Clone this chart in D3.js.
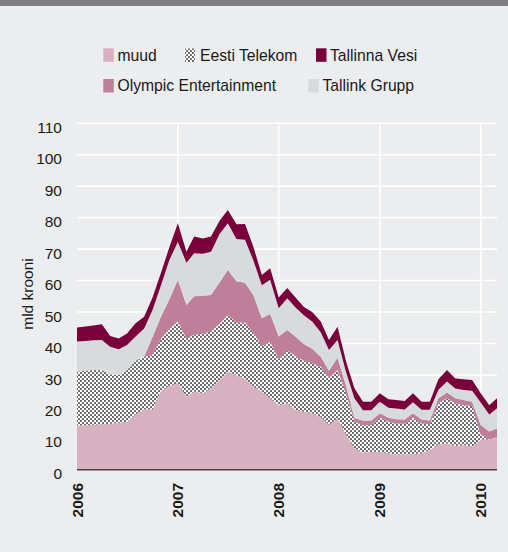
<!DOCTYPE html>
<html><head><meta charset="utf-8">
<script src="https://cdn.jsdelivr.net/npm/d3@7"></script>
<style>html,body{margin:0;padding:0;background:#ecedef;} svg{display:block;}</style>
</head><body><svg id="c" width="508" height="552"></svg>
<script>
const months = ["2006-01","2006-02","2006-03","2006-04","2006-05","2006-06","2006-07","2006-08","2006-09","2006-10","2006-11","2006-12",
"2007-01","2007-02","2007-03","2007-04","2007-05","2007-06","2007-07","2007-08","2007-09","2007-10","2007-11","2007-12",
"2008-01","2008-02","2008-03","2008-04","2008-05","2008-06","2008-07","2008-08","2008-09","2008-10","2008-11","2008-12",
"2009-01","2009-02","2009-03","2009-04","2009-05","2009-06","2009-07","2009-08","2009-09","2009-10","2009-11","2009-12",
"2010-01","2010-02","2010-03"];
const muud = [13.9,14.0,14.2,14.3,14.5,14.7,15.1,17.5,19.1,18.9,25.0,26.5,
27.4,23.1,24.7,24.2,25.8,28.4,31.0,30.0,28.9,26.3,24.7,22.6,
20.4,21.0,18.9,18.3,17.8,16.7,14.1,16.2,11.0,6.8,5.3,5.6,
5.6,5.1,4.6,4.8,4.8,5.1,6.1,8.0,8.3,7.4,7.7,7.2,
9.5,9.5,10.3];
const eestiTelekom = [17.1,17.3,17.4,17.3,15.7,15.3,16.5,17.0,16.7,17.4,16.5,18.0,
19.6,18.5,18.1,18.9,18.0,17.9,18.1,16.6,17.8,17.2,14.5,17.9,
14.6,16.8,17.1,16.2,15.9,15.9,14.9,15.3,13.2,8.3,8.7,8.5,
10.8,10.0,10.0,9.7,11.6,9.5,8.2,13.0,14.3,13.6,12.7,12.9,
1.5,0,0];
const olympic = [0,0,0,0,0,0,0,0,0,5.7,7.0,9.5,
13.2,10.6,12.2,12.1,11.6,13.1,14.3,13.2,12.6,11.9,8.8,8.9,
7.2,6.5,6.2,5.3,4.6,3.2,2.3,4.0,2.2,1.2,1.4,1.4,
1.4,1.3,1.3,1.3,1.4,1.2,1.2,1.6,1.8,1.6,1.6,1.4,
3.1,2.5,2.7];
const tallink = [9.6,9.5,9.4,9.5,8.8,8.2,7.9,7.7,9.0,8.6,10.0,12.5,
12.1,13.5,13.7,13.3,13.8,15.4,14.8,13.4,13.7,11.1,10.5,10.9,
9.0,10.1,9.3,9.2,8.7,7.8,6.6,5.6,4.4,6.3,3.4,3.3,
3.7,3.2,3.4,3.2,3.5,3.1,3.4,2.7,3.5,3.1,3.2,3.5,
7.1,5.4,6.4];
const tallinnaVesi = [4.5,4.6,4.7,5.0,3.4,3.4,3.7,4.2,3.7,3.9,4.0,4.0,
5.9,3.5,5.3,4.9,4.8,4.2,4.2,4.7,5.0,4.3,3.3,3.6,
3.4,3.2,3.2,2.6,3.0,3.4,3.2,4.2,3.4,3.2,2.7,2.7,
2.7,2.7,2.7,2.7,2.9,2.6,2.6,3.3,3.7,3.2,3.4,3.4,
3.0,3.0,3.2];
const yTicks = [0,10,20,30,40,50,60,70,80,90,100,110];
const yearTicks = ["2006","2007","2008","2009","2010"];

const seriesKeys = ["muud","eestiTelekom","olympic","tallink","tallinnaVesi"];
const seriesNames = {muud:"muud",eestiTelekom:"Eesti Telekom",olympic:"Olympic Entertainment",tallink:"Tallink Grupp",tallinnaVesi:"Tallinna Vesi"};
const colors = {muud:"#d8b1c1",eestiTelekom:"url(#chk)",olympic:"#bf7f9b",tallink:"#d8dbdd",tallinnaVesi:"#79003a"};

const parse = d3.timeParse("%Y-%m");
const rows = months.map((m,i)=>({date:parse(m),muud:muud[i],eestiTelekom:eestiTelekom[i],olympic:olympic[i],tallink:tallink[i],tallinnaVesi:tallinnaVesi[i]}));

const svg = d3.select("#c");
const FONT = "'Liberation Sans', Arial, Helvetica, sans-serif";

// defs: pattern
const defs = svg.append("defs");
const pat = defs.append("pattern").attr("id","chk").attr("patternUnits","userSpaceOnUse").attr("width",4).attr("height",4);
pat.append("rect").attr("width",4).attr("height",4).attr("fill","#ffffff");
pat.append("circle").attr("cx",1).attr("cy",1).attr("r",1.05).attr("fill","#5a5a5a");
pat.append("circle").attr("cx",3).attr("cy",3).attr("r",1.05).attr("fill","#5a5a5a");

// background + top bar
svg.append("rect").attr("width",508).attr("height",552).attr("fill","#ecedef");
svg.append("rect").attr("width",508).attr("height",6).attr("fill","#7f7e83");

const x = d3.scaleTime().domain([parse("2006-01"),parse("2010-03")]).range([77,497]);
const y = d3.scaleLinear().domain([0,110]).range([469.3,123.3]);

// gridlines
svg.append("g").selectAll("line").data(yTicks.filter(d=>d>0)).join("line")
  .attr("x1",77).attr("x2",497).attr("y1",d=>y(d)).attr("y2",d=>y(d))
  .attr("stroke","#ffffff").attr("stroke-width",1.6);
svg.append("g").selectAll("line").data(yearTicks.slice(1)).join("line")
  .attr("x1",d=>x(parse(d+"-01"))).attr("x2",d=>x(parse(d+"-01")))
  .attr("y1",y(110)).attr("y2",y(0))
  .attr("stroke","#ffffff").attr("stroke-width",1.6);

// stack
const stack = d3.stack().keys(seriesKeys);
const layers = stack(rows);
const area = d3.area().x(d=>x(d.data.date)).y0(d=>y(d[0])).y1(d=>y(d[1]));
svg.append("g").selectAll("path").data(layers).join("path")
  .attr("d",area).attr("fill",d=>colors[d.key]);

// x axis line
svg.append("line").attr("x1",77).attr("x2",497).attr("y1",y(0)+0.5).attr("y2",y(0)+0.5)
  .attr("stroke","#444").attr("stroke-width",1.6);

// y tick labels
svg.append("g").selectAll("text").data(yTicks).join("text")
  .attr("x",62).attr("y",d=>y(d)+9.6).attr("text-anchor","end")
  .attr("font-family",FONT).attr("font-size","15.5px").attr("fill","#1a1a1a")
  .text(d=>d);

// year labels
svg.append("g").selectAll("text").data(yearTicks).join("text")
  .attr("transform",d=>`translate(${x(parse(d+"-01"))+5.5},483) rotate(-90)`)
  .attr("text-anchor","end").attr("font-family",FONT).attr("font-weight","bold")
  .attr("font-size","15.5px").attr("fill","#1a1a1a").text(d=>d);

// y axis title
svg.append("text").attr("transform","translate(33,294) rotate(-90)")
  .attr("text-anchor","middle").attr("font-family",FONT).attr("font-size","15.5px")
  .attr("fill","#1a1a1a").text("mld krooni");

// legend
const legend = [
  {key:"muud", sx:103.3, sy:48.3, tx:117.5, ty:60.7},
  {key:"eestiTelekom", sx:185, sy:48.5, tx:200, ty:60.7},
  {key:"tallinnaVesi", sx:316, sy:48.3, tx:330, ty:60.7},
  {key:"olympic", sx:103.3, sy:79, tx:117.5, ty:90.7},
  {key:"tallink", sx:308.3, sy:79, tx:322.5, ty:90.7}
];
const lg = svg.append("g");
legend.forEach(l=>{
  lg.append("rect").attr("x",l.sx).attr("y",l.sy).attr("width",l.key==="eestiTelekom"?10:10.5).attr("height",13.5)
    .attr("fill",colors[l.key]);
  lg.append("text").attr("x",l.tx).attr("y",l.ty).attr("font-family",FONT).attr("font-size","15.7px")
    .attr("fill","#1a1a1a").text(seriesNames[l.key]);
});
</script></body></html>
